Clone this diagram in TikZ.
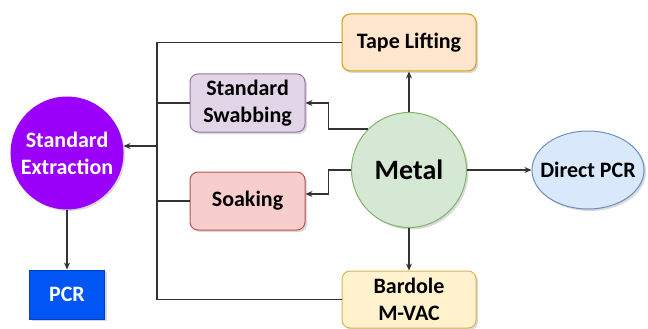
\documentclass[tikz,border=0pt]{standalone}
\usepackage{fontspec}
\setmainfont{Carlito}
\usepackage{xcolor}
\usetikzlibrary{arrows.meta,shapes.geometric,shadows}

\definecolor{tapefill}{HTML}{FFE6CC}
\definecolor{tapeline}{HTML}{D79B00}
\definecolor{swabfill}{HTML}{E1D5E7}
\definecolor{swabline}{HTML}{9673A6}
\definecolor{soakfill}{HTML}{F8CECC}
\definecolor{soakline}{HTML}{B85450}
\definecolor{bardfill}{HTML}{FFF2CC}
\definecolor{bardline}{HTML}{D6B656}
\definecolor{metalfill}{HTML}{D5E8D4}
\definecolor{metalline}{HTML}{82B366}
\definecolor{directfill}{HTML}{DAE8FC}
\definecolor{directline}{HTML}{6C8EBF}
\definecolor{extfill}{HTML}{9A00FA}
\definecolor{pcrfill}{HTML}{0055F5}
\definecolor{pcrline}{HTML}{0040C0}

\begin{document}
\begin{tikzpicture}[x=1pt,y=-1pt,
    every node/.style={font=\bfseries\fontsize{22}{27}\selectfont, align=center, line width=1pt},
    dropped/.style={drop shadow={opacity=0.3, shadow xshift=2pt, shadow yshift=-2pt}},
    box/.style={draw, dropped, rounded corners=8pt, minimum width=134pt, minimum height=57pt, inner sep=0pt},
    link/.style={draw=black!80, line width=1.2pt},
    tip/.style={link, -{Stealth[length=7pt,width=6pt]}}]
                \useasboundingbox (0,0) rectangle (648,329);

                \node[box, fill=tapefill, draw=tapeline] (T) at (409,42.5) {Tape Lifting};
                \node[box, minimum width=115pt, minimum height=58pt, fill=swabfill, draw=swabline] (S) at (247.5,103) {Standard\\Swabbing};
                \node[box, minimum width=115pt, minimum height=58pt, fill=soakfill, draw=soakline] (K) at (247.5,201) {Soaking};
                \node[box, fill=bardfill, draw=bardline] (B) at (409,299.5) {Bardole\\M-VAC};
                \node[circle, dropped, draw=metalline, fill=metalfill, minimum size=115pt, inner sep=0pt, font=\bfseries\fontsize{28}{34}\selectfont] (M) at (409,170) {Metal};
                \node[ellipse, dropped, draw=directline, fill=directfill, minimum width=112pt, minimum height=78pt, inner xsep=-10pt, inner ysep=0pt] (D) at (588,170) {Direct PCR};
                \node[circle, dropped, draw=extfill, fill=extfill, text=white, minimum size=112pt, inner sep=0pt] (E) at (67,153) {Standard\\Extraction};
                \node[dropped, draw=pcrline, fill=pcrfill, text=white, minimum width=75pt, minimum height=49pt, inner sep=0pt] (P) at (67,294.5) {PCR};
                \coordinate (J) at (157,146);

                % everything from the metal node
                \draw[tip] (M.north) -- (T.south);
                \draw[tip] (M.south) -- (B.north);
                \draw[tip] (M.east) -- (D.west);
                \draw[tip] (M.135) -| ([xshift=23pt]S.east) -- (S.east);
                \draw[tip] (M.west) -| ([xshift=23pt,yshift=7pt]K.east) -- ([yshift=7pt]K.east);

                % collecting line on the left
                \draw[link] (T.west) -| (J);
                \draw[link] (S.west) -| (J);
                \draw[link] (K.west) -| (J);
                \draw[link] (B.west) -| (J);
                \draw[tip, line width=2pt] (J) -- (J -| E.east);
                \draw[tip] (E.south) -- (P.north);
            \end{tikzpicture}
\end{document}
